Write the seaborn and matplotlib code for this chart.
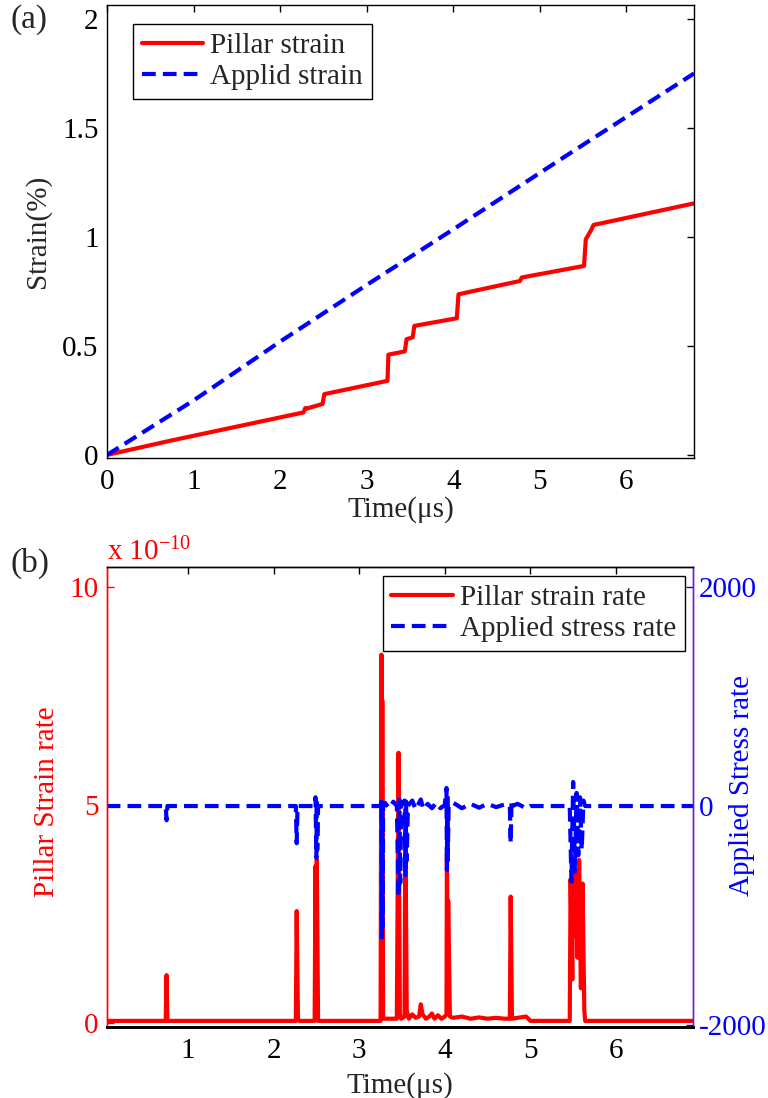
import matplotlib
matplotlib.use("Agg")
import matplotlib.pyplot as plt
import seaborn as sns
import pandas as pd
from matplotlib.ticker import FormatStrFormatter

# ---------------- data ----------------
# (a) strain vs time
strain_time = [0, 0.74, 2.27, 2.29, 2.30, 2.49, 2.51, 3.24, 3.25, 3.44, 3.46,
               3.53, 3.55, 4.04, 4.06, 4.77, 4.79, 5.51, 5.53, 5.59, 5.62, 6.78]
pillar_strain = [0, 0.066, 0.195, 0.215, 0.212, 0.234, 0.279, 0.340, 0.460, 0.475, 0.531,
                 0.539, 0.592, 0.627, 0.737, 0.798, 0.814, 0.867, 0.989, 1.03, 1.055, 1.154]
applied_time = [0, 1, 2, 3, 4, 5.41, 6.78]
applied_strain = [0, 0.25, 0.52, 0.78, 1.035, 1.40, 1.75]

# (b) pillar strain rate (x 1e-10)
rate_time = [0.05, 0.74, 0.75, 0.76, 2.26, 2.27, 2.285, 2.30, 2.48, 2.49, 2.50, 2.505, 2.52,
             3.25, 3.26, 3.265, 3.27, 3.28, 3.44, 3.46, 3.475, 3.49, 3.53, 3.54, 3.555, 3.58,
             3.62, 3.66, 3.70, 3.72, 3.74, 3.78, 3.82, 3.85, 3.88, 3.92, 3.96, 4.00,
             4.02, 4.025, 4.035, 4.04, 4.06, 4.10, 4.20, 4.30, 4.40, 4.50, 4.60, 4.70,
             4.76, 4.77, 4.785, 4.85, 4.95, 5.00, 5.46, 5.47, 5.49, 5.50, 5.52, 5.53,
             5.55, 5.57, 5.59, 5.61, 5.63, 5.64, 6.90]
pillar_rate = [0.05, 0.05, 1.1, 0.05, 0.05, 2.57, 0.1, 0.05, 0.05, 3.6, 0.3, 3.75, 0.05,
               0.05, 8.45, 2.0, 7.4, 0.1, 0.1, 6.2, 0.2, 0.1, 0.15, 4.9, 0.3, 0.1,
               0.2, 0.12, 0.15, 0.43, 0.2, 0.1, 0.15, 0.22, 0.1, 0.18, 0.1, 0.15,
               0.2, 3.9, 1.5, 2.8, 0.15, 0.12, 0.15, 0.1, 0.13, 0.1, 0.12, 0.1,
               0.1, 2.9, 0.1, 0.12, 0.15, 0.05, 0.05, 3.3, 1.0, 3.7, 2.0, 3.5,
               1.5, 3.74, 0.8, 3.2, 0.3, 0.05, 0.05]

# (b) applied stress rate
stress_time = [0.05, 0.74, 0.75, 0.76, 2.26, 2.27, 2.28, 2.48, 2.49, 2.50, 2.505, 2.51, 2.52,
               3.25, 3.26, 3.265, 3.27, 3.275, 3.28, 3.30, 3.35, 3.40, 3.44, 3.46, 3.47, 3.48, 3.49,
               3.53, 3.54, 3.55, 3.555, 3.57, 3.62, 3.66, 3.72, 3.75, 3.80, 3.85, 3.90, 3.95, 4.00,
               4.02, 4.025, 4.03, 4.035, 4.045, 4.10, 4.20, 4.30, 4.40, 4.50, 4.60, 4.70,
               4.76, 4.77, 4.78, 4.79, 4.85, 4.95, 5.00, 5.46, 5.48, 5.50, 5.52, 5.54, 5.56,
               5.58, 5.60, 5.62, 5.64, 6.90]
stress_rate = [0, 0, -130, 0, 0, -340, 0, 0, 80, -475, 60, -400, 0,
               0, 40, -1200, 20, -1100, 0, 30, -20, 40, 0, -830, 60, -700, 0,
               50, -630, 40, -500, 0, 50, -30, 60, -30, 20, -20, 30, -20, 10,
               165, -585, 120, -500, 0, 30, -20, 20, -15, 20, -10, 15,
               0, -340, 50, 0, 20, -20, 0, 0, -690, 220, -600, 120, -450,
               80, -400, 50, 0, 0]

xticks_a = [0, 1, 2, 3, 4, 5, 6]
yticks_a = [0, 0.5, 1, 1.5, 2]
xticks_b = [1, 2, 3, 4, 5, 6]
yticks_b_left = [0, 5, 10]
yticks_b_right = [-2000, 0, 2000]

# ---------------- style ----------------
sns.set_theme(style="white")
plt.rcParams["font.family"] = ["Liberation Serif", "DejaVu Serif"]
plt.rcParams["mathtext.fontset"] = "custom"
plt.rcParams["mathtext.rm"] = "Liberation Serif"
plt.rcParams["mathtext.it"] = "Liberation Serif:italic"
plt.rcParams["axes.unicode_minus"] = False
plt.rcParams["axes.edgecolor"] = "black"
plt.rcParams["axes.linewidth"] = 1.0

FS = 21
W, H = 768, 1098
fig = plt.figure(figsize=(W / 100, H / 100), dpi=100)
fig.patch.set_facecolor("white")

ax1 = fig.add_axes([107 / W, 1 - 458 / H, 587 / W, 453 / H])
ax2 = fig.add_axes([107 / W, 1 - 1027 / H, 586 / W, 460 / H])

DASH = (0, (3.3, 1.7))

# ---------------- panel (a) ----------------
df_p = pd.DataFrame({"t": strain_time, "v": pillar_strain})
df_a = pd.DataFrame({"t": applied_time, "v": applied_strain})
sns.lineplot(data=df_p, x="t", y="v", ax=ax1, color="red", linewidth=3,
             estimator=None, sort=False)
sns.lineplot(data=df_a, x="t", y="v", ax=ax1, color="blue", linewidth=3,
             linestyle=DASH, estimator=None, sort=False)
lp, la = ax1.get_lines()[0], ax1.get_lines()[1]

ax1.set_xlim(0, 6.78)
ax1.set_ylim(-0.014, 2.064)
ax1.set_xticks(xticks_a)
ax1.set_yticks(yticks_a)
ax1.yaxis.set_major_formatter(FormatStrFormatter("%g"))
ax1.tick_params(direction="in", length=5, width=1, top=True, right=True,
                labelsize=FS, colors="black")
ax1.tick_params(axis="x", pad=8)
ax1.tick_params(axis="y", pad=6)
ax1.set_xlabel("Time(μs)", fontsize=FS)
ax1.set_ylabel("Strain(%)", fontsize=FS)
ax1.xaxis.set_label_coords(0.5, -0.085)
ax1.yaxis.set_label_coords(-0.095, 0.5)
for s in ax1.spines.values():
    s.set_color("black")
    s.set_linewidth(1)
leg1 = ax1.legend([lp, la], ["Pillar strain", "Applid strain"], loc="upper left",
                  bbox_to_anchor=(0.044, 0.958), borderaxespad=0, fontsize=FS,
                  frameon=True, fancybox=False, framealpha=1, edgecolor="black",
                  handlelength=2.1, handletextpad=0.25, borderpad=0.3,
                  labelspacing=0.15)
leg1.get_frame().set_linewidth(1.0)

# ---------------- panel (b) ----------------
axr = ax2.twinx()
df_r = pd.DataFrame({"t": rate_time, "v": pillar_rate})
df_s = pd.DataFrame({"t": stress_time, "v": stress_rate})
sns.lineplot(data=df_r, x="t", y="v", ax=ax2, color="red", linewidth=3,
             estimator=None, sort=False)
sns.lineplot(data=df_s, x="t", y="v", ax=axr, color="blue", linewidth=3,
             linestyle=DASH, estimator=None, sort=False)
lr = ax2.get_lines()[0]
ls = axr.get_lines()[0]

ax2.set_xlim(0.054, 6.9)
ax2.set_ylim(-0.09, 10.46)
axr.set_ylim(-2018, 2183)
ax2.set_xticks(xticks_b)
ax2.set_yticks(yticks_b_left)
axr.set_yticks(yticks_b_right)
ax2.tick_params(axis="x", direction="in", length=5, width=1, top=True,
                labelsize=FS, colors="black", pad=8)
ax2.tick_params(axis="y", direction="in", length=5, width=1, labelsize=FS,
                colors="red", pad=6)
axr.tick_params(axis="y", direction="in", length=5, width=1, labelsize=FS,
                colors="blue", pad=4)
ax2.set_xlabel("Time(μs)", fontsize=FS)
ax2.set_ylabel("Pillar Strain rate", fontsize=FS, color="red")
axr.set_ylabel("Applied Stress rate", fontsize=FS, color="blue")
ax2.xaxis.set_label_coords(0.5, -0.098)
ax2.yaxis.set_label_coords(-0.08, 0.49)
axr.yaxis.set_label_coords(1.062, 0.526)

for a in (ax2, axr):
    a.spines["top"].set_color("black")
    a.spines["bottom"].set_color("black")
    a.spines["left"].set_color("red")
    a.spines["right"].set_color("#6a20d0")
    for s in a.spines.values():
        s.set_linewidth(1)
ax2.spines["bottom"].set_linewidth(2)
axr.spines["bottom"].set_linewidth(2)

ax2.text(0.0, 1.015, "x 10$^{-10}$", transform=ax2.transAxes, ha="left",
         va="baseline", color="red", fontsize=FS)

if ax2.get_legend() is not None:
    ax2.get_legend().remove()
if axr.get_legend() is not None:
    axr.get_legend().remove()

leg2 = axr.legend([lr, ls], ["Pillar strain rate", "Applied stress rate"],
                  loc="upper right", bbox_to_anchor=(0.986, 0.980), borderaxespad=0,
                  fontsize=FS, frameon=True, fancybox=False, framealpha=1,
                  edgecolor="black", handlelength=2.1, handletextpad=0.25,
                  borderpad=0.3, labelspacing=0.15)
leg2.get_frame().set_linewidth(1.0)

fig.text(10 / W, 1 - 20 / H, "(a)", fontsize=24, ha="left", va="center")
fig.text(10 / W, 1 - 563 / H, "(b)", fontsize=24, ha="left", va="center")

fig.savefig("out.png", dpi=100, facecolor="white")
